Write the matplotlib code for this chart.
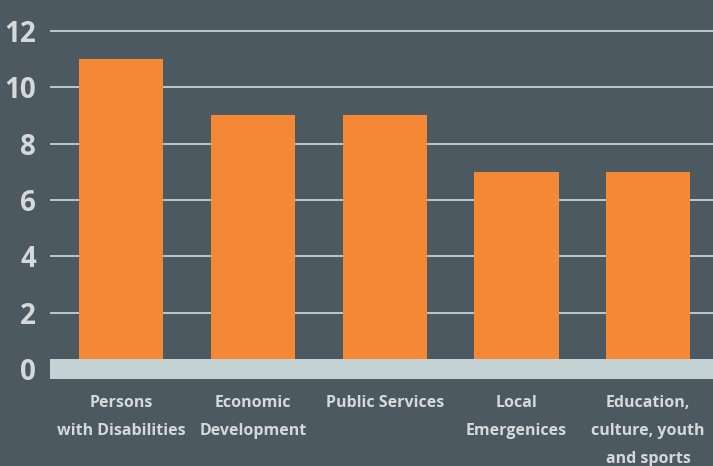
import matplotlib
matplotlib.use("Agg")
import matplotlib.pyplot as plt

categories = ["Persons\nwith Disabilities", "Economic\nDevelopment", "Public Services",
              "Local\nEmergenices", "Education,\nculture, youth\nand sports"]
values = [11, 9, 9, 7, 7]
yticks = [0, 2, 4, 6, 8, 10, 12]

bg = "#4c5961"
bar_color = "#f58834"
grid_color = "#c4d2d3"
text_color = "#d6d8da"

plt.rcParams["font.family"] = ["Open Sans", "DejaVu Sans"]

fig = plt.figure(figsize=(7.13, 4.66), dpi=100, facecolor=bg)
ax = fig.add_axes([50 / 713, 86 / 466, 663 / 713, 360 / 466], facecolor=bg)

x = list(range(len(categories)))
ax.bar(x, values, width=0.638, color=bar_color, zorder=2)

# baseline band across the bottom
ax.axhspan(-0.355, 0.355, color=grid_color, zorder=3, lw=0)
for t in yticks[1:]:
    ax.axhline(t, color=grid_color, lw=1.3, zorder=1)

ax.set_xlim(-0.542, 4.492)
ax.set_ylim(-0.39, 12.39)

ax.set_yticks(yticks)
ax.set_yticklabels([str(t) for t in yticks], fontsize=20, fontweight="bold", color=text_color)
ax.set_xticks(x)
ax.set_xticklabels(categories, fontsize=11.5, fontweight="bold", color=text_color, linespacing=2.0)
ax.tick_params(axis="both", length=0)
ax.tick_params(axis="x", pad=11)
ax.tick_params(axis="y", pad=10)

for s in ax.spines.values():
    s.set_visible(False)

fig.savefig("out.png", dpi=100, facecolor=bg)
